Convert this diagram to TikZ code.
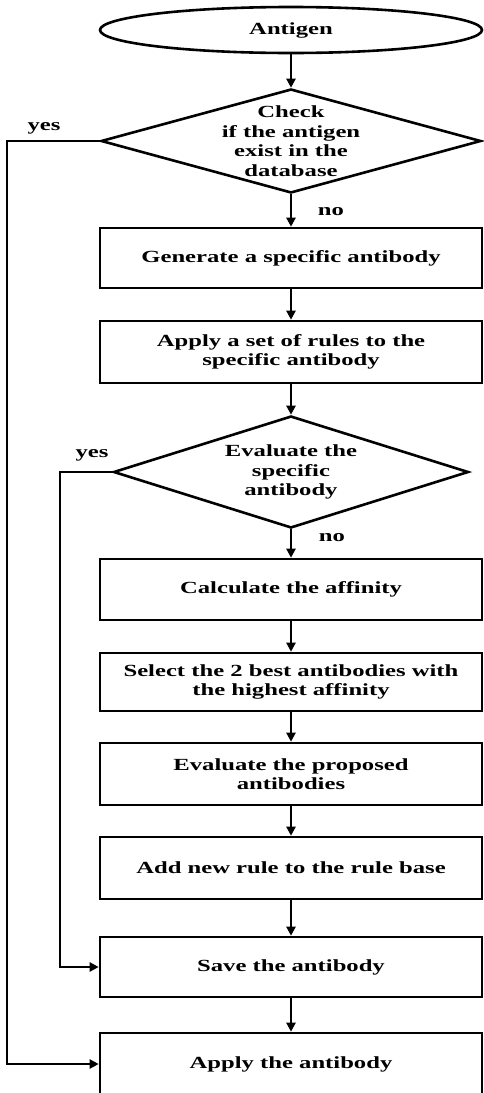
\documentclass[tikz,border=0pt]{standalone}
\usepackage{fontspec}
\setmainfont{Liberation Serif}[FakeStretch=1.45]
\usetikzlibrary{shapes.geometric,arrows.meta}
\begin{document}
\begin{tikzpicture}[x=1pt,y=-1pt,line width=2.6pt,
  font=\bfseries\fontsize{17}{19.5}\selectfont,
  every node/.style={align=center},
  stepbox/.style={draw,rectangle,minimum width=382pt,minimum height=61pt,inner sep=0pt},
  decision/.style={draw,diamond,inner sep=0pt},
  flow/.style={-{Triangle[length=9pt,width=9pt]}}]
\useasboundingbox (0,0) rectangle (484,1093);
\node[draw,ellipse,minimum width=382pt,minimum height=46pt,inner sep=0pt] (antigen) at (291,30) {Antigen};
\node[decision,minimum width=380pt,minimum height=104pt] (check) at (291,141) {};
\node (checktext) at (check) {Check\\if the antigen\\exist in the\\database};
\node[stepbox,minimum height=60pt] (gen) at (291,258) {Generate a specific antibody};
\node[stepbox,minimum height=62pt] (rules) at (291,352) {Apply a set of rules to the\\specific antibody};
\node[decision,minimum width=355pt,minimum height=112pt] (evalsp) at (291,472) {};
\node (evalsptext) at (evalsp) {Evaluate the\\specific\\antibody};
\node[stepbox] (calc) at (291,589.5) {Calculate the affinity};
\node[stepbox,minimum height=58pt] (select) at (291,682) {Select the 2 best antibodies with\\the highest affinity};
\node[stepbox,minimum height=62pt] (evalprop) at (291,774) {Evaluate the proposed\\antibodies};
\node[stepbox,minimum height=62pt] (addrule) at (291,868) {Add new rule to the rule base};
\node[stepbox,minimum height=60pt] (save) at (291,967) {Save the antibody};
\node[stepbox,minimum height=62pt] (apply) at (291,1064) {Apply the antibody};
\coordinate (outerrail) at (7,0);
\coordinate (innerrail) at (60,0);
\node (yesa) at (44,128) {yes};
\node (noa) at (331,212) {no};
\node (yesb) at (92,455) {yes};
\node (nob) at (332,538) {no};
\draw[flow] (antigen) -- (check);
\draw[flow] (check) -- (gen);
\draw[flow] (gen) -- (rules);
\draw[flow] (rules) -- (evalsp);
\draw[flow] (evalsp) -- (calc);
\draw[flow] (calc) -- (select);
\draw[flow] (select) -- (evalprop);
\draw[flow] (evalprop) -- (addrule);
\draw[flow] (addrule) -- (save);
\draw[flow] (save) -- (apply);
\draw[flow] (check.west) -- (check.west -| outerrail) |- (apply.west);
\draw[flow] (evalsp.west) -- (evalsp.west -| innerrail) |- (save.west);
\end{tikzpicture}
\end{document}
